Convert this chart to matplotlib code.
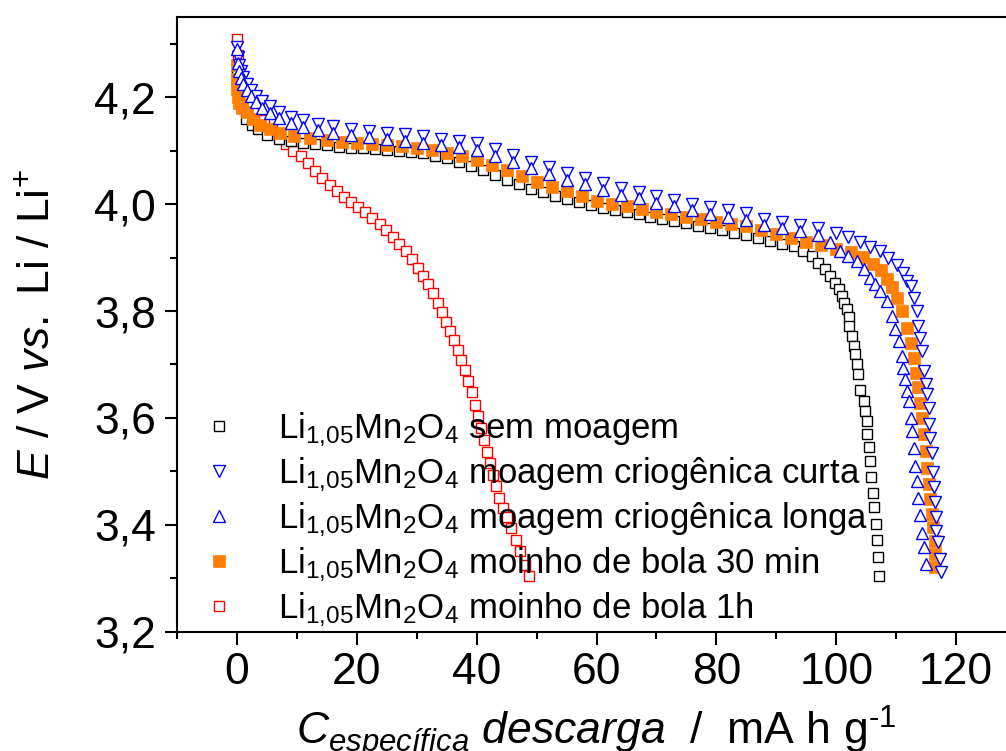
import matplotlib
matplotlib.use('Agg')
import matplotlib.pyplot as plt

plt.rcParams['font.family'] = 'Liberation Sans'
plt.rcParams['mathtext.fontset'] = 'custom'
plt.rcParams['mathtext.rm'] = 'Liberation Sans'
plt.rcParams['mathtext.it'] = 'Liberation Sans:italic'
plt.rcParams['mathtext.bf'] = 'Liberation Sans:bold'

# sem moagem (black open squares)
x_sem = [0, 0.3, 0.8, 1.5, 2.5, 3.5, 5, 7, 9, 11, 13, 15, 17, 19, 21, 23, 25, 27, 29, 31,
         33, 35, 37, 39, 41, 43, 45, 47, 49, 51, 53, 55, 57, 59, 61, 63, 65, 67, 69, 71,
         73, 75, 77, 79, 81, 83, 85, 87, 89, 91, 92.9, 94.5, 95.9, 97.0, 98.2, 99.0, 99.8,
         100.4, 101.0, 101.3, 101.8, 102.1, 102.2, 102.6, 102.9, 103.2, 103.4, 103.6,
         104.0, 104.6, 104.8, 105.1, 105.2, 105.4, 105.6, 105.8, 106.1, 106.3, 106.6,
         106.8, 107.0, 107.2]
y_sem = [4.25, 4.21, 4.18, 4.16, 4.148, 4.14, 4.13, 4.123, 4.118, 4.115, 4.112, 4.11, 4.108,
         4.106, 4.105, 4.103, 4.102, 4.1, 4.098, 4.095, 4.091, 4.086, 4.08, 4.072, 4.064,
         4.055, 4.046, 4.037, 4.029, 4.022, 4.016, 4.01, 4.004, 3.998, 3.993, 3.989, 3.985,
         3.981, 3.976, 3.972, 3.968, 3.964, 3.96, 3.955, 3.951, 3.946, 3.942, 3.937, 3.932,
         3.926, 3.921, 3.912, 3.903, 3.890, 3.878, 3.865, 3.853, 3.841, 3.829, 3.816,
         3.803, 3.788, 3.772, 3.753, 3.735, 3.719, 3.700, 3.682, 3.652, 3.632, 3.613,
         3.595, 3.570, 3.545, 3.520, 3.490, 3.459, 3.434, 3.401, 3.371, 3.339, 3.305]

# moinho de bola 30 min (orange filled squares)
x_30 = [0, 0, 0.05, 0.15, 0.4, 0.8, 1.6, 2.6, 3.8, 5.5, 7.2, 9.5, 12.2, 15, 17.5, 20, 22.5,
        25, 27.5, 30, 32.5, 35, 37.5, 40, 42.5, 45, 47.5, 50, 52.5, 55, 57.5, 60, 62.5, 65,
        67.5, 70, 72.5, 75, 77.5, 80, 82.5, 85, 87.5, 90, 92.5, 95, 97.5, 100, 102.5,
        104.5, 106.2, 107.5, 108.5, 109.3, 110.1, 110.9, 111.8, 112.4, 112.9, 113.3,
        113.7, 114.0, 114.3, 114.6, 114.9, 115.2, 115.4, 115.7, 116.0, 116.2, 116.4,
        116.5, 116.5]
y_30 = [4.26, 4.235, 4.215, 4.2, 4.19, 4.18, 4.172, 4.16, 4.149, 4.14, 4.133, 4.128, 4.124,
        4.12, 4.117, 4.115, 4.113, 4.111, 4.109, 4.106, 4.102, 4.096, 4.09, 4.082, 4.073,
        4.064, 4.053, 4.042, 4.032, 4.024, 4.016, 4.007, 4.001, 3.996, 3.991, 3.986, 3.981,
        3.977, 3.972, 3.967, 3.963, 3.959, 3.952, 3.944, 3.937, 3.930, 3.923, 3.917,
        3.911, 3.902, 3.888, 3.876, 3.86, 3.845, 3.825, 3.80, 3.769, 3.74, 3.713, 3.685,
        3.657, 3.628, 3.600, 3.569, 3.538, 3.507, 3.476, 3.448, 3.420, 3.395, 3.370,
        3.345, 3.320]

# moagem criogenica curta (blue down triangles)
x_curta = [0, 0.1, 0.3, 0.6, 1.0, 1.6, 2.3, 3.2, 4.2, 5.5, 7, 9, 11, 13.5, 16, 19, 22, 25,
           28, 31, 34, 37, 40, 43, 46, 49, 52, 55, 58, 61, 64, 67, 70, 73, 76, 79, 82, 85,
           88, 91, 94, 97, 100, 102, 104, 105.7, 107.3, 108.7, 110.1, 111.2, 111.8, 112.4,
           112.9, 113.5, 113.7, 114.0, 114.3, 114.6, 114.9, 115.1, 115.4, 115.5, 115.7,
           116.0, 116.1, 116.3, 116.5, 116.6, 116.7, 116.9, 117.3, 117.5]
y_curta = [4.295, 4.276, 4.261, 4.249, 4.238, 4.226, 4.214, 4.203, 4.193, 4.183, 4.173,
           4.164, 4.157, 4.151, 4.146, 4.141, 4.137, 4.134, 4.131, 4.127, 4.123, 4.119,
           4.114, 4.103, 4.092, 4.080, 4.069, 4.058, 4.049, 4.039, 4.030, 4.023, 4.015,
           4.008, 4.001, 3.994, 3.989, 3.983, 3.973, 3.967, 3.961, 3.955, 3.946, 3.939,
           3.93, 3.92, 3.912, 3.90, 3.887, 3.871, 3.856, 3.847, 3.825, 3.80, 3.772, 3.75,
           3.725, 3.688, 3.663, 3.644, 3.619, 3.588, 3.563, 3.535, 3.498, 3.47, 3.442,
           3.415, 3.389, 3.367, 3.336, 3.311]

# moagem criogenica longa (blue up triangles)
x_longa = [0, 0.1, 0.3, 0.6, 1.0, 1.6, 2.3, 3.2, 4.2, 5.5, 7, 9, 11, 13.5, 16, 19, 22, 25,
           28, 31, 34, 37, 40, 43, 46, 49, 52, 55, 58, 61, 64, 67, 70, 73, 76, 79, 82, 85,
           88, 91, 94, 97, 99, 100.7, 102, 103.4, 104.6, 105.7, 106.5, 107.3, 108.5, 109.3,
           109.8, 110.4, 111.0, 111.2, 111.5, 111.8, 112.1, 112.4, 112.6, 112.9, 113.2,
           113.5, 113.7, 114.0, 114.3, 114.6, 114.9]
y_longa = [4.29, 4.264, 4.249, 4.237, 4.226, 4.214, 4.202, 4.191, 4.181, 4.171, 4.161,
           4.152, 4.145, 4.139, 4.134, 4.129, 4.125, 4.122, 4.119, 4.115, 4.111, 4.107,
           4.102, 4.091, 4.080, 4.068, 4.057, 4.046, 4.037, 4.027, 4.018, 4.011, 4.003,
           3.996, 3.989, 3.982, 3.977, 3.971, 3.961, 3.955, 3.949, 3.943, 3.93, 3.912,
           3.903, 3.893, 3.878, 3.862, 3.85, 3.837, 3.818, 3.791, 3.766, 3.744, 3.716,
           3.694, 3.672, 3.65, 3.632, 3.6, 3.576, 3.543, 3.51, 3.482, 3.451, 3.418, 3.385,
           3.358, 3.326]

# moinho de bola 1h (red open squares)
x_1h = [0, 0.1, 0.3, 0.7, 1.3, 2.2, 3.3, 4.5, 5.8, 7.0, 8.2, 9.4, 10.6, 11.8, 13.0, 14.2,
        15.5, 16.7, 17.9, 19.0, 20.2, 21.4, 22.6, 23.8, 24.9, 26.0, 27.1, 28.2, 29.2, 30.2,
        31.1, 31.9, 32.7, 33.5, 34.2, 34.9, 35.6, 36.2, 36.8, 37.4, 38.0, 38.6, 39.2, 39.7,
        40.2, 40.7, 41.2, 41.7, 42.2, 42.7, 43.2, 43.7, 44.4, 45.1, 45.8, 46.5, 47.3,
        48.1, 48.8]
y_1h = [4.31, 4.28, 4.25, 4.225, 4.205, 4.188, 4.172, 4.157, 4.14, 4.125, 4.112, 4.1,
        4.09, 4.077, 4.063, 4.05, 4.036, 4.024, 4.014, 4.005, 3.995, 3.985, 3.974, 3.963,
        3.951, 3.939, 3.926, 3.912, 3.897, 3.881, 3.866, 3.85, 3.833, 3.816, 3.798, 3.78,
        3.763, 3.745, 3.727, 3.709, 3.69, 3.67, 3.648, 3.625, 3.603, 3.581, 3.559, 3.537,
        3.515, 3.493, 3.472, 3.451, 3.432, 3.414, 3.393, 3.372, 3.351, 3.325, 3.305]

labels = [r'Li$_{1{,}05}$Mn$_2$O$_4$ sem moagem',
          r'Li$_{1{,}05}$Mn$_2$O$_4$ moagem criogênica curta',
          r'Li$_{1{,}05}$Mn$_2$O$_4$ moagem criogênica longa',
          r'Li$_{1{,}05}$Mn$_2$O$_4$ moinho de bola 30 min',
          r'Li$_{1{,}05}$Mn$_2$O$_4$ moinho de bola 1h']

xticks = [0, 20, 40, 60, 80, 100, 120]
yticks = [3.2, 3.4, 3.6, 3.8, 4.0, 4.2]
ytick_labels = ['3,2', '3,4', '3,6', '3,8', '4,0', '4,2']

fig = plt.figure(figsize=(10.06, 7.51), dpi=100)
ax = fig.add_axes([0.176, 0.159, 0.834, 0.818])

h_1h, = ax.plot(x_1h, y_1h, 's', ls='none', ms=6.5, mfc='white', mec='#ff0000', mew=1.0)
h_sem, = ax.plot(x_sem, y_sem, 's', ls='none', ms=6.5, mfc='white', mec='black', mew=1.0)
h_30, = ax.plot(x_30, y_30, 's', ls='none', ms=9, mfc='#ff8000', mec='#ff8000', mew=0.5)
h_curta, = ax.plot(x_curta, y_curta, 'v', ls='none', ms=8, mfc='white', mec='#0000ff', mew=1.0)
h_longa, = ax.plot(x_longa, y_longa, '^', ls='none', ms=8, mfc='white', mec='#0000ff', mew=1.0)

leg = ax.legend([h_sem, h_curta, h_longa, h_30, h_1h], labels, loc='upper left',
                bbox_to_anchor=(0.034, 0.36), frameon=False, fontsize=25,
                handlelength=0.8, handletextpad=1.3, labelspacing=0.2,
                borderpad=0.0, borderaxespad=0.0)

ax.set_xlim(-10, 130)
ax.set_ylim(3.2, 4.35)
ax.set_xticks(xticks)
ax.set_xticks(range(-10, 131, 10), minor=True)
ax.set_yticks(yticks)
ax.set_yticklabels(ytick_labels)
ax.set_yticks([3.3, 3.5, 3.7, 3.9, 4.1, 4.3], minor=True)
ax.tick_params(which='both', direction='out', width=1.5, labelsize=32, top=False, right=False)
ax.tick_params(which='major', length=9, pad=6)
ax.tick_params(which='minor', length=5)
for s in ax.spines.values():
    s.set_linewidth(1.5)

ax.set_xlabel(r'$\mathit{C}_{\mathit{específica}}\ \mathit{descarga}$  /  mA h g$^{\text{-1}}$',
              fontsize=32, va='baseline')
ax.xaxis.set_label_coords(0.5, -0.183)
ax.set_ylabel(r'$\mathit{E}$ / V $\mathit{vs.}$ Li / Li$^{+}$', fontsize=32, labelpad=26)

fig.savefig('out.png', dpi=100)
